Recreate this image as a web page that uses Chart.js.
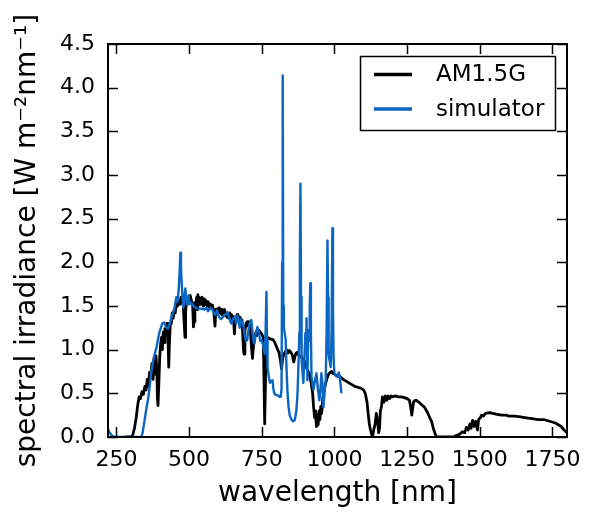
<!DOCTYPE html>
<html>
<head>
<meta charset="utf-8">
<title>Spectral irradiance</title>
<script src="https://cdn.jsdelivr.net/npm/chart.js@4.4.0/dist/chart.umd.min.js"></script>
<style>
  html, body { margin: 0; padding: 0; background: #fff; }
</style>
</head>
<body>
<canvas id="chart-spectrum" width="592" height="512"></canvas>
<script>
/**
 * AM1.5G reference spectrum vs. solar simulator
 */

// Axis limits and tick labels
const xMin = 221;
const xMax = 1800;
const xTicks = [250, 500, 750, 1000, 1250, 1500, 1750];
const yTicks = [0, 0.5, 1.0, 1.5, 2.0, 2.5, 3.0, 3.5, 4.0, 4.5];

const seriesNames = ['AM1.5G', 'simulator'];

// AM1.5G: [wavelength nm, irradiance W m-2 nm-1]
const am15g = [
  [280, 0], [300, 0], [306, 0.02], [312, 0.1], [318, 0.22], [323, 0.36], [328, 0.46], [333, 0.44], [338, 0.52], [343, 0.49],
  [348, 0.58], [352, 0.54], [356, 0.66], [360, 0.58], [364, 0.74], [368, 0.68], [372, 0.84], [376, 0.66], [380, 0.9], [383, 0.72],
  [386, 0.93], [389, 0.78], [391, 0.45], [393, 0.36], [396, 0.62], [399, 0.92], [402, 1.06], [405, 1.14], [408, 1.0], [411, 1.2],
  [414, 1.08], [417, 1.24], [420, 1.16], [424, 1.3], [427, 1.2], [430, 0.8], [432, 1.05], [435, 1.28], [439, 1.3], [442, 1.42],
  [445, 1.36], [449, 1.46], [452, 1.42], [456, 1.52], [460, 1.5], [464, 1.56], [468, 1.52], [472, 1.6], [476, 1.55], [480, 1.5],
  [484, 1.25], [486, 1.14], [488, 1.45], [492, 1.55], [496, 1.6], [500, 1.53], [504, 1.62], [508, 1.56], [512, 1.52], [515, 1.26],
  [517, 1.32], [520, 1.54], [523, 1.5], [526, 1.6], [528, 1.46], [530, 1.63], [533, 1.55], [535, 1.6], [538, 1.52], [540, 1.58],
  [543, 1.54], [545, 1.6], [548, 1.5], [550, 1.56], [553, 1.58], [556, 1.52], [559, 1.56], [562, 1.5], [565, 1.55], [568, 1.53],
  [571, 1.47], [574, 1.52], [577, 1.48], [580, 1.51], [585, 1.44], [589, 1.27], [592, 1.46], [595, 1.43], [598, 1.47], [601, 1.43],
  [604, 1.48], [607, 1.42], [610, 1.46], [613, 1.4], [616, 1.45], [619, 1.42], [622, 1.46], [625, 1.39], [628, 1.42], [631, 1.37],
  [634, 1.41], [637, 1.36], [640, 1.42], [643, 1.38], [646, 1.4], [649, 1.34], [652, 1.38], [656, 1.18], [659, 1.37], [662, 1.35],
  [665, 1.4], [668, 1.34], [670, 1.38], [673, 1.33], [676, 1.37], [679, 1.3], [682, 1.34], [687, 1.0], [689, 0.95], [692, 1.22],
  [696, 1.3], [700, 1.32], [703, 1.27], [705, 1.32], [708, 1.24], [710, 1.28], [714, 1.05], [718, 0.9], [722, 1.06], [726, 1.16],
  [730, 1.2], [733, 1.16], [735, 1.24], [740, 1.22], [745, 1.2], [750, 1.18], [755, 1.14], [758, 0.6], [760, 0.15], [762, 0.5],
  [765, 1.1], [770, 1.14], [775, 1.13], [780, 1.12], [785, 1.12], [790, 1.11], [795, 1.08], [800, 1.04], [805, 1.0], [810, 0.96],
  [815, 0.86], [818, 0.78], [822, 0.9], [826, 0.95], [830, 0.97], [835, 1.0], [840, 0.96], [845, 0.99], [850, 0.97], [855, 0.94],
  [860, 0.86], [864, 0.92], [868, 0.96], [872, 0.97], [876, 0.94], [880, 0.93], [885, 0.92], [890, 0.9], [895, 0.88], [900, 0.85],
  [905, 0.78], [910, 0.75], [915, 0.7], [920, 0.62], [925, 0.5], [928, 0.35], [932, 0.22], [935, 0.3], [938, 0.12], [941, 0.25],
  [944, 0.14], [947, 0.3], [950, 0.2], [953, 0.35], [956, 0.27], [960, 0.45], [965, 0.55], [970, 0.62], [975, 0.68], [980, 0.72],
  [985, 0.74], [990, 0.75], [995, 0.73], [1000, 0.72], [1010, 0.7], [1020, 0.69], [1030, 0.66], [1040, 0.64], [1050, 0.62], [1060, 0.6],
  [1070, 0.58], [1080, 0.57], [1090, 0.56], [1100, 0.54], [1106, 0.5], [1112, 0.4], [1116, 0.27], [1120, 0.15], [1124, 0.08], [1128, 0.03],
  [1131, 0.0], [1135, 0.08], [1140, 0.15], [1144, 0.27], [1148, 0.2], [1152, 0.05], [1155, 0.1], [1158, 0.3], [1162, 0.35], [1165, 0.46],
  [1170, 0.4], [1175, 0.47], [1180, 0.42], [1185, 0.47], [1190, 0.44], [1195, 0.47], [1200, 0.46], [1210, 0.47], [1220, 0.46], [1230, 0.46],
  [1240, 0.45], [1250, 0.44], [1258, 0.42], [1262, 0.35], [1266, 0.25], [1268, 0.3], [1272, 0.4], [1278, 0.42], [1282, 0.42], [1290, 0.4],
  [1300, 0.37], [1310, 0.34], [1320, 0.28], [1328, 0.22], [1334, 0.18], [1340, 0.1], [1346, 0.04], [1351, 0.0], [1410, 0.0], [1420, 0.02],
  [1430, 0.03], [1440, 0.06], [1448, 0.05], [1454, 0.11], [1460, 0.08], [1466, 0.15], [1470, 0.1], [1475, 0.19], [1480, 0.12], [1486, 0.18],
  [1492, 0.08], [1496, 0.2], [1502, 0.22], [1506, 0.25], [1512, 0.24], [1520, 0.27], [1533, 0.28], [1545, 0.27], [1560, 0.26], [1575, 0.25],
  [1590, 0.25], [1600, 0.24], [1620, 0.24], [1640, 0.23], [1660, 0.22], [1680, 0.21], [1700, 0.2], [1720, 0.2], [1740, 0.18], [1760, 0.16],
  [1780, 0.12], [1790, 0.08], [1800, 0.05],
];

// Solar simulator: [wavelength nm, irradiance W m-2 nm-1]
const simulator = [
  [214, 0.14], [219, 0.11], [225, 0.06], [233, 0.02], [245, 0.0], [336, 0.0], [340, 0.05], [345, 0.15], [350, 0.26], [355, 0.36],
  [360, 0.46], [365, 0.6], [370, 0.75], [378, 0.9], [388, 1.03], [393, 1.12], [398, 1.2], [403, 1.25], [408, 1.3], [415, 1.31],
  [422, 1.25], [427, 1.24], [432, 1.28], [438, 1.35], [443, 1.41], [448, 1.45], [452, 1.52], [456, 1.6], [460, 1.55], [464, 1.68],
  [467, 1.87], [470, 2.11], [472, 1.95], [474, 1.79], [477, 1.62], [480, 1.48], [484, 1.6], [487, 1.7], [490, 1.58], [494, 1.51],
  [498, 1.62], [502, 1.52], [508, 1.54], [515, 1.5], [522, 1.48], [529, 1.47], [540, 1.47], [553, 1.46], [560, 1.48], [565, 1.44],
  [570, 1.46], [575, 1.48], [580, 1.46], [585, 1.42], [590, 1.4], [596, 1.45], [600, 1.4], [604, 1.37], [610, 1.35], [618, 1.38],
  [625, 1.4], [632, 1.43], [638, 1.36], [642, 1.32], [646, 1.3], [652, 1.36], [658, 1.38], [662, 1.3], [666, 1.39], [670, 1.34],
  [674, 1.25], [678, 1.35], [683, 1.31], [688, 1.25], [692, 1.15], [696, 1.1], [700, 1.11], [704, 1.22], [708, 1.3], [714, 1.34],
  [718, 1.2], [721, 1.1], [725, 1.07], [729, 1.18], [735, 1.26], [740, 1.2], [745, 1.1], [749, 1.11], [755, 1.05], [760, 0.95],
  [763, 1.2], [766, 1.66], [768, 1.1], [770, 0.8], [774, 0.69], [778, 0.62], [782, 0.64], [787, 0.65], [790, 0.55], [793, 0.5],
  [798, 0.48], [804, 0.48], [811, 0.46], [815, 0.46], [818, 0.55], [820, 2.0], [822, 4.14], [824, 1.5], [826, 1.25], [829, 1.19],
  [832, 1.12], [835, 0.8], [838, 0.54], [842, 0.35], [846, 0.25], [852, 0.2], [858, 0.18], [864, 0.2], [869, 0.3], [873, 0.5],
  [877, 0.9], [879, 1.19], [881, 2.0], [883, 2.9], [885, 1.6], [887, 0.88], [890, 0.75], [893, 0.62], [896, 0.85], [900, 1.19],
  [902, 1.0], [904, 1.36], [907, 0.65], [910, 1.22], [913, 1.1], [915, 1.5], [917, 1.76], [919, 1.2], [921, 0.69], [925, 0.6],
  [928, 0.54], [933, 0.65], [938, 0.73], [943, 0.55], [948, 0.42], [952, 0.55], [955, 0.73], [959, 0.6], [962, 0.34], [966, 0.5],
  [970, 0.65], [973, 1.2], [976, 2.25], [978, 1.6], [980, 0.95], [983, 0.88], [987, 0.8], [990, 1.2], [993, 2.39], [995, 1.5],
  [997, 0.9], [1000, 0.73], [1005, 0.7], [1010, 0.69], [1015, 0.74], [1018, 0.7], [1021, 0.6], [1024, 0.5],
];

const FONT = 'DejaVu Sans';
const BLUE = '#0a66c2';

/**
 * Frame, inward ticks on all four sides and the boxed legend
 */
const axesDecor = {
  id: 'axesDecor',
  afterDraw(chart) {
    const { ctx, chartArea: a, scales } = chart;
    const len = 10;

    ctx.save();
    ctx.strokeStyle = '#000';

    // ticks
    ctx.lineWidth = 1.5;
    ctx.beginPath();
    xTicks.forEach((v) => {
      const px = Math.round(scales.x.getPixelForValue(v)) + 0.5;
      ctx.moveTo(px, a.bottom); ctx.lineTo(px, a.bottom - len);
      ctx.moveTo(px, a.top); ctx.lineTo(px, a.top + len);
    });
    yTicks.forEach((v) => {
      const py = Math.round(scales.y.getPixelForValue(v)) + 0.5;
      ctx.moveTo(a.left, py); ctx.lineTo(a.left + len, py);
      ctx.moveTo(a.right, py); ctx.lineTo(a.right - len, py);
    });
    ctx.stroke();

    // frame
    ctx.lineWidth = 2;
    ctx.strokeRect(a.left, a.top, a.right - a.left, a.bottom - a.top);

    // legend
    const box = { x: 360.5, y: 56.5, w: 195, h: 74 };
    ctx.fillStyle = '#fff';
    ctx.fillRect(box.x, box.y, box.w, box.h);
    ctx.lineWidth = 1.5;
    ctx.strokeRect(box.x, box.y, box.w, box.h);

    const rows = [74.5, 109];
    chart.data.datasets.forEach((ds, i) => {
      ctx.strokeStyle = ds.borderColor;
      ctx.lineWidth = 3.5;
      ctx.beginPath();
      ctx.moveTo(374, rows[i]);
      ctx.lineTo(412, rows[i]);
      ctx.stroke();

      ctx.fillStyle = '#000';
      ctx.font = `23px "${FONT}"`;
      ctx.textBaseline = 'middle';
      ctx.textAlign = 'left';
      ctx.fillText(ds.label, 436, rows[i] + 1);
    });
    ctx.restore();
  },
};

/**
 * Render the spectrum chart
 */
function renderSpectrumChart() {
  const canvas = document.getElementById('chart-spectrum');

  const chartData = {
    datasets: [
      {
        label: seriesNames[0],
        data: am15g.map(([x, y]) => ({ x, y })),
        borderColor: '#000000',
        borderWidth: 2.8,
        order: 1,
      },
      {
        label: seriesNames[1],
        data: simulator.map(([x, y]) => ({ x, y })),
        borderColor: BLUE,
        borderWidth: 2.4,
        order: 0,
      },
    ],
  };

  new Chart(canvas, {
    type: 'line',
    data: chartData,
    plugins: [axesDecor],
    options: {
      responsive: false,
      animation: false,
      parsing: false,
      normalized: true,
      layout: { padding: { top: 44, right: 25, left: 0, bottom: 0 } },
      elements: {
        point: { radius: 0 },
        line: { tension: 0, borderJoinStyle: 'round' },
      },
      plugins: {
        legend: { display: false },
        tooltip: { enabled: false },
      },
      scales: {
        x: {
          type: 'linear',
          min: xMin,
          max: xMax,
          afterBuildTicks: (scale) => { scale.ticks = xTicks.map((value) => ({ value })); },
          afterFit: (scale) => { scale.height = 75; },
          ticks: {
            color: '#000',
            font: { family: FONT, size: 22 },
            padding: 10,
            maxRotation: 0,
            autoSkip: false,
            callback: (v) => String(v),
          },
          grid: { display: false, drawTicks: false },
          border: { display: false },
          title: {
            display: true,
            text: 'wavelength [nm]',
            color: '#000',
            font: { family: FONT, size: 28 },
            padding: { top: 0, bottom: 1 },
          },
        },
        y: {
          type: 'linear',
          min: 0,
          max: 4.5,
          afterBuildTicks: (scale) => { scale.ticks = yTicks.map((value) => ({ value })); },
          afterFit: (scale) => { scale.width = 108; },
          ticks: {
            color: '#000',
            font: { family: FONT, size: 22 },
            padding: 13,
            autoSkip: false,
            callback: (v) => v.toFixed(1),
          },
          grid: { display: false, drawTicks: false },
          border: { display: false },
          title: {
            display: true,
            text: 'spectral irradiance [W m\u207B\u00B2nm\u207B\u00B9]',
            color: '#000',
            font: { family: FONT, size: 28 },
            padding: { top: 11, bottom: 0 },
          },
        },
      },
    },
  });
}

renderSpectrumChart();
</script>
</body>
</html>
